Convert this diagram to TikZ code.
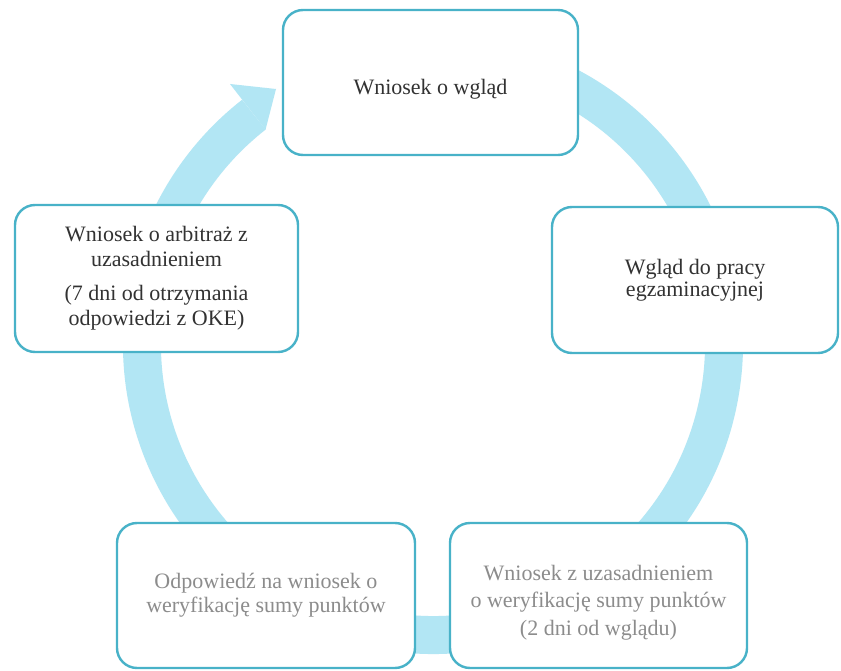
\documentclass[tikz,border=0pt]{standalone}
\usepackage{fontspec}
\setmainfont{Liberation Serif}
\usetikzlibrary{calc}
\definecolor{bandc}{RGB}{178,230,244}
\definecolor{edgec}{RGB}{72,178,200}
\definecolor{darktxt}{RGB}{50,50,50}
\definecolor{lighttxt}{RGB}{140,140,140}
\begin{document}
\begin{tikzpicture}[x=1pt,y=-1pt,
  box/.style={draw=edgec, line width=2.4pt, rounded corners=20pt, fill=white,
    align=center, inner sep=0pt, text=darktxt,
    font=\fontsize{22}{27}\selectfont},
  fadebox/.style={box, text=lighttxt},
  band/.style={draw=bandc, line width=38pt},
  head/.style={fill=bandc}]
\useasboundingbox (0,0) rectangle (841,671);
\fill[white] (0,0) rectangle (841,671);
\coordinate (c) at (433,344);
\coordinate (hin) at ($(c)+(232:272)$);
\coordinate (hout) at (230,84);
\coordinate (htip) at (276,89);
\draw[band] ([shift={(-80:291)}]c) arc[start angle=-80,end angle=232,radius=291];
\fill[head] (hin) -- (hout) -- (htip) -- cycle;
\node[box, minimum width=295pt, minimum height=145pt, text height=28pt] (top) at (430.5,82.5) {Wniosek o wgląd};
\node[box, minimum width=286pt, minimum height=146pt, font=\fontsize{22}{22}\selectfont] (right) at (695,280) {Wgląd do pracy\\egzaminacyjnej};
\node[box, minimum width=283pt, minimum height=147pt, font=\fontsize{22}{25}\selectfont] (left) at (156.5,278.5) {Wniosek o arbitraż z\\uzasadnieniem\\[9pt](7 dni od otrzymania\\odpowiedzi z OKE)};
\node[fadebox, minimum width=298pt, minimum height=145pt, font=\fontsize{22}{24}\selectfont] (bl) at (266,595.5) {Odpowiedź na wniosek o\\weryfikację sumy punktów};
\node[fadebox, minimum width=297pt, minimum height=145pt, text height=84pt, font=\fontsize{22}{27.5}\selectfont] (br) at (598.5,595.5) {Wniosek z uzasadnieniem\\o weryfikację sumy punktów\\(2 dni od wglądu)};
\end{tikzpicture}
\end{document}
